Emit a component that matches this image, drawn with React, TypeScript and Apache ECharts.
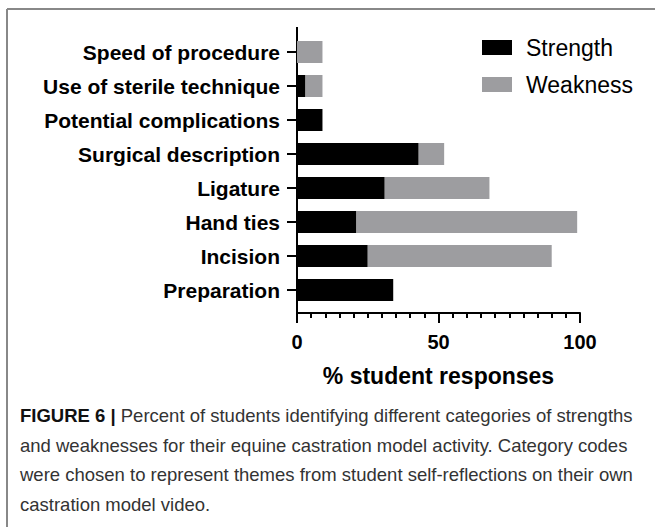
import React, { useEffect, useRef } from "react";
import * as echarts from "echarts";

const categories = [
  "Speed of procedure",
  "Use of sterile technique",
  "Potential complications",
  "Surgical description",
  "Ligature",
  "Hand ties",
  "Incision",
  "Preparation",
];
const strength = [0, 3, 9, 43, 31, 21, 25, 34];
const weakness = [9, 6, 0, 9, 37, 78, 65, 0];
const xTicks = [0, 50, 100];

const captionLines = [
  "Percent of students identifying different categories of strengths",
  "and weaknesses for their equine castration model activity. Category codes",
  "were chosen to represent themes from student self-reflections on their own",
  "castration model video.",
];

const W = 655;
const H = 527;
const GRID_LEFT = 297;
const GRID_RIGHT = 75;
const GRID_TOP = 35;
const GRID_H = 272;
const AXIS_EXT_TOP = 8;
const AXIS_EXT_BOTTOM = 6;
const FONT = "'Liberation Sans', Arial, Helvetica, sans-serif";

export default function App() {
  const ref = useRef<HTMLDivElement>(null);
  useEffect(() => {
    if (!ref.current) return;
    const chart = echarts.init(ref.current, undefined, { renderer: "svg" });
    const captionText =
      "{b|FIGURE 6 |} " + captionLines[0] + "\n" + captionLines.slice(1).join("\n");
    chart.setOption({
      animation: false,
      backgroundColor: "#ffffff",
      textStyle: { fontFamily: FONT },
      grid: {
        left: GRID_LEFT,
        right: GRID_RIGHT,
        top: GRID_TOP,
        height: GRID_H,
        containLabel: false,
      },
      legend: {
        left: 477,
        top: 31,
        orient: "vertical",
        itemWidth: 30,
        itemHeight: 15,
        itemGap: 14,
        icon: "rect",
        textStyle: {
          fontSize: 23,
          color: "#000",
          fontFamily: FONT,
          padding: [0, 0, 0, 9],
        },
        data: ["Strength", "Weakness"],
      },
      xAxis: {
        type: "value",
        min: 0,
        max: 100,
        interval: 50,
        offset: AXIS_EXT_BOTTOM,
        name: "% student responses",
        nameLocation: "middle",
        nameGap: 51,
        nameTextStyle: {
          fontSize: 23,
          fontWeight: "bold",
          color: "#000",
          fontFamily: FONT,
        },
        axisLine: { show: true, lineStyle: { color: "#000", width: 2 } },
        axisTick: { show: true, length: 10, lineStyle: { color: "#000", width: 2 } },
        minorTick: {
          show: true,
          splitNumber: 10,
          length: 5,
          lineStyle: { color: "#000", width: 2 },
        },
        splitLine: { show: false },
        axisLabel: {
          fontSize: 20,
          fontWeight: "bold",
          color: "#000",
          margin: 19,
          fontFamily: FONT,
          formatter: (v: number) => (xTicks.includes(v) ? String(v) : ""),
        },
      },
      yAxis: {
        type: "category",
        inverse: true,
        data: categories,
        axisLine: { show: true, lineStyle: { color: "#000", width: 2 } },
        axisTick: {
          show: true,
          alignWithLabel: true,
          length: 10,
          lineStyle: { color: "#000", width: 2 },
        },
        axisLabel: {
          fontSize: 21,
          fontWeight: "bold",
          color: "#000",
          margin: 17,
          fontFamily: FONT,
        },
      },
      series: [
        {
          name: "Strength",
          type: "bar",
          stack: "total",
          data: strength,
          barWidth: 22,
          itemStyle: { color: "#000000" },
        },
        {
          name: "Weakness",
          type: "bar",
          stack: "total",
          data: weakness,
          barWidth: 22,
          itemStyle: { color: "#9d9da0" },
        },
      ],
      graphic: [
        {
          type: "line",
          shape: { x1: 7, y1: 9, x2: W, y2: 9 },
          style: { stroke: "#888", lineWidth: 2 },
        },
        {
          type: "line",
          shape: { x1: 7, y1: 9, x2: 7, y2: H },
          style: { stroke: "#888", lineWidth: 2 },
        },
        {
          type: "line",
          shape: { x1: GRID_LEFT, y1: GRID_TOP - AXIS_EXT_TOP, x2: GRID_LEFT, y2: GRID_TOP },
          style: { stroke: "#000", lineWidth: 2 },
        },
        {
          type: "line",
          shape: {
            x1: GRID_LEFT,
            y1: GRID_TOP + GRID_H,
            x2: GRID_LEFT,
            y2: GRID_TOP + GRID_H + AXIS_EXT_BOTTOM + 1,
          },
          style: { stroke: "#000", lineWidth: 2 },
        },
        {
          type: "text",
          left: 20,
          top: 401,
          style: {
            text: captionText,
            fontSize: 18.5,
            lineHeight: 29.5,
            fill: "#333",
            fontFamily: FONT,
            rich: {
              b: { fontWeight: "bold", fontSize: 18.5, fill: "#111", fontFamily: FONT, lineHeight: 29.5 },
            },
          },
        },
      ],
    });
    return () => chart.dispose();
  }, []);
  return (
    <div
      ref={ref}
      style={{ position: "fixed", left: 0, top: 0, width: W, height: H, background: "#fff" }}
    />
  );
}
